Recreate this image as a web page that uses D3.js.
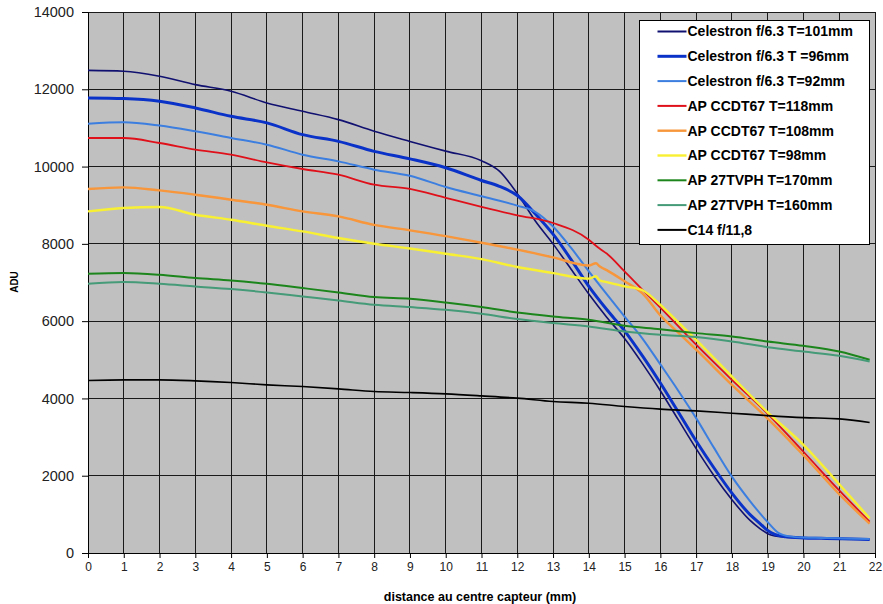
<!DOCTYPE html>
<html>
<head>
<meta charset="utf-8">
<script src="https://cdn.jsdelivr.net/npm/d3@7"></script>
<style>
  body { margin: 0; background: #fff; }
  svg { display: block; font-family: "Liberation Sans", Arial, sans-serif; }
</style>
</head>
<body>
<script>
// distances (mm) for each group of curves
var xInt = [0,1,2,3,4,5,6,7,8,9,10,11,12,13,14,15,16,17,18,19,20,21,21.85];
var xCel = [0,1,2,3,4,5,6,7,8,9,10,11,11.5,12,12.5,13,13.5,14,14.5,15,15.5,16,16.5,17,17.5,18,18.5,18.8,19,19.2,19.5,20,20.5,21,21.85];
var xCel92 = [0,1,2,3,4,5,6,7,8,9,10,11,12,12.5,13,13.5,14,14.5,15,15.5,16,16.5,17,17.5,18,18.5,19,19.3,19.6,20,20.5,21,21.85];
var xCcd = [0,1,2,3,4,5,6,7,8,9,10,11,12,13,14,14.2,14.3,14.5,15,15.5,16,16.5,17,18,19,20,21,21.85];

// ADU values
var cel101 = [12490,12467,12336,12120,11950,11647,11430,11215,10912,10650,10400,10150,9880,9300,8600,8000,7350,6700,6100,5550,4900,4200,3450,2700,2000,1380,850,620,500,440,410,390,380,370,350];
var cel96 = [11777,11760,11690,11517,11300,11130,10826,10653,10394,10200,9970,9640,9490,9250,8780,8250,7600,6900,6300,5750,5100,4400,3650,2900,2200,1550,1000,750,580,480,420,390,380,370,350];
var cel92 = [11111,11145,11060,10912,10740,10567,10308,10135,9920,9760,9470,9230,8990,8830,8450,7900,7290,6700,6120,5550,4880,4200,3490,2720,1976,1350,800,520,430,400,390,380,360];
var ccd118 = [10740,10740,10610,10438,10308,10109,9937,9790,9531,9420,9190,8960,8740,8540,8107,7950,7880,7750,7286,6810,6350,5870,5390,4480,3600,2620,1620,811];
var ccd108 = [9420,9461,9384,9272,9143,9013,8840,8710,8490,8350,8200,8030,7850,7650,7440,7500,7420,7320,7030,6720,6150,5700,5260,4350,3480,2530,1520,760];
var ccd98 = [8840,8928,8954,8754,8625,8469,8322,8151,8003,7880,7744,7606,7400,7244,7100,7160,7060,7010,6900,6800,6420,5970,5517,4566,3640,2800,1780,898];
var tvph170 = [7226,7244,7200,7115,7053,6967,6856,6742,6622,6579,6483,6364,6224,6120,6035,5880,5793,5690,5602,5473,5361,5214,4999];
var tvph160 = [6967,7011,6967,6897,6830,6742,6638,6535,6423,6363,6294,6190,6053,5949,5861,5731,5646,5587,5473,5327,5214,5102,4955];
var c14 = [4463,4480,4480,4455,4411,4351,4307,4248,4178,4152,4118,4066,4007,3919,3877,3790,3722,3678,3618,3556,3504,3470,3375];

var seriesNames = ["Celestron f/6.3 T=101mm", "Celestron f/6.3 T =96mm", "Celestron f/6.3 T=92mm",
                   "AP CCDT67 T=118mm", "AP CCDT67 T=108mm", "AP CCDT67 T=98mm",
                   "AP 27TVPH T=170mm", "AP 27TVPH T=160mm", "C14 f/11,8"];
var xTicks = d3.range(0, 23);
var yTicks = [0, 2000, 4000, 6000, 8000, 10000, 12000, 14000];

var series = [
  {name: seriesNames[0], xs: xCel, ys: cel101, color: "#101070", w: 1.6},
  {name: seriesNames[1], xs: xCel, ys: cel96, color: "#0a32c8", w: 3},
  {name: seriesNames[2], xs: xCel92, ys: cel92, color: "#3b7ee0", w: 2},
  {name: seriesNames[3], xs: xCcd, ys: ccd118, color: "#e0101a", w: 1.8},
  {name: seriesNames[4], xs: xCcd, ys: ccd108, color: "#f7963a", w: 2.4},
  {name: seriesNames[5], xs: xCcd, ys: ccd98, color: "#f8f032", w: 2.4},
  {name: seriesNames[6], xs: xInt, ys: tvph170, color: "#1c861c", w: 2},
  {name: seriesNames[7], xs: xInt, ys: tvph160, color: "#459a78", w: 2},
  {name: seriesNames[8], xs: xInt, ys: c14, color: "#000000", w: 1.6}
];

var width = 883,
    height = 604;

var svg = d3.select("body").append("svg")
    .attr("width", width)
    .attr("height", height);

var x = d3.scaleLinear().domain([0, 22]).range([88, 875]);
var y = d3.scaleLinear().domain([0, 14000]).range([553, 12]);

// plot area
svg.append("rect")
    .attr("x", x(0)).attr("y", y(14000))
    .attr("width", x(22) - x(0)).attr("height", y(0) - y(14000))
    .attr("fill", "#c0c0c0");

// grid
svg.append("g").selectAll("line")
    .data(xTicks.slice(1))
    .enter().append("line")
    .attr("x1", function(d) { return x(d); })
    .attr("x2", function(d) { return x(d); })
    .attr("y1", y(0)).attr("y2", y(14000))
    .attr("stroke", "#1a1a1a").attr("stroke-width", 1)
    .attr("shape-rendering", "crispEdges");

svg.append("g").selectAll("line")
    .data(yTicks.slice(1))
    .enter().append("line")
    .attr("x1", x(0)).attr("x2", x(22))
    .attr("y1", function(d) { return y(d); })
    .attr("y2", function(d) { return y(d); })
    .attr("stroke", "#1a1a1a").attr("stroke-width", 1)
    .attr("shape-rendering", "crispEdges");

// axes
var xAxis = d3.axisBottom(x).tickValues(xTicks).tickSize(5).tickPadding(4).tickFormat(d3.format("d"));
var yAxis = d3.axisLeft(y).tickValues(yTicks).tickSize(6).tickPadding(8).tickFormat(d3.format("d"));

var gx = svg.append("g").attr("transform", "translate(0," + y(0) + ")").call(xAxis);
gx.select(".domain").attr("stroke", "#000");
gx.selectAll(".tick line").attr("stroke", "#000");
gx.selectAll("text").attr("font-size", 12).attr("fill", "#222")
    .attr("font-family", "Liberation Sans, Arial, sans-serif");

var gy = svg.append("g").attr("transform", "translate(" + x(0) + ",0)").call(yAxis);
gy.select(".domain").attr("stroke", "#000");
gy.selectAll(".tick line").attr("stroke", "#000");
gy.selectAll("text").attr("font-size", 14.5).attr("fill", "#222")
    .attr("font-family", "Liberation Sans, Arial, sans-serif");

// curves
var line = d3.line()
    .x(function(d) { return x(d[0]); })
    .y(function(d) { return y(d[1]); })
    .curve(d3.curveMonotoneX);

svg.append("g").selectAll("path")
    .data(series)
    .enter().append("path")
    .attr("d", function(s) { return line(s.xs.map(function(v, i) { return [v, s.ys[i]]; })); })
    .attr("fill", "none")
    .attr("stroke", function(s) { return s.color; })
    .attr("stroke-width", function(s) { return s.w; })
    .attr("stroke-linejoin", "round");

// axis titles
svg.append("text")
    .attr("x", 480).attr("y", 601)
    .attr("text-anchor", "middle")
    .attr("font-size", 12.5).attr("font-weight", "bold")
    .text("distance au centre capteur (mm)");

svg.append("text")
    .attr("transform", "translate(18,282) rotate(-90)")
    .attr("text-anchor", "middle")
    .attr("font-size", 10).attr("font-weight", "bold")
    .text("ADU");

// legend
var legend = svg.append("g").attr("transform", "translate(639.5,20.5)");
legend.append("rect")
    .attr("width", 230).attr("height", 224)
    .attr("fill", "#fff").attr("stroke", "#000");

var item = legend.selectAll(".item")
    .data(series)
    .enter().append("g")
    .attr("class", "item")
    .attr("transform", function(d, i) { return "translate(0," + (11 + i * 24.8) + ")"; });

item.append("line")
    .attr("x1", 18).attr("x2", 47)
    .attr("stroke", function(d) { return d.color; })
    .attr("stroke-width", function(d) { return Math.max(2, d.w); });

item.append("text")
    .attr("x", 48).attr("dy", "0.35em")
    .attr("font-size", 14).attr("font-weight", "bold")
    .text(function(d) { return d.name; });
</script>
</body>
</html>
